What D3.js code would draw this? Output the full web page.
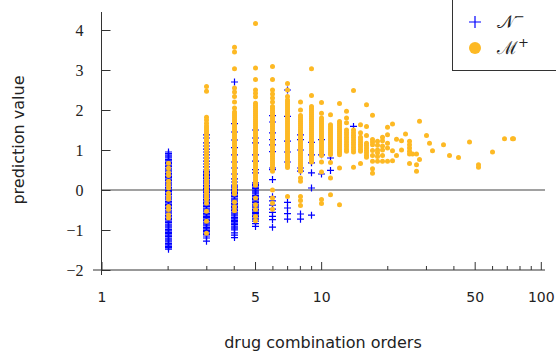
<!DOCTYPE html>
<html>
<head>
<meta charset="utf-8">
<script src="https://cdn.jsdelivr.net/npm/d3@7"></script>
<style>
  body { margin: 0; background: #fff; }
  text { font-family: "DejaVu Sans", sans-serif; fill: #222; }
</style>
</head>
<body>
<div id="chart"></div>
<script>
// Width and height
const WIDTH = 556;
const HEIGHT = 359;

// N- values (blue plus), one list per drug combination order
const negOrders = [2, 3, 4, 5, 6, 7, 8, 9, 10, 11, 14];
const neg2 = [0.95, 0.91, 0.87, 0.83, 0.8, 0.76, 0.73, 0.69, 0.66, 0.62, 0.59, 0.55, 0.52, 0.48, 0.45, 0.41, 0.38, 0.34, 0.31, 0.27, 0.24, 0.2, 0.17, 0.13, 0.1, 0.06, 0.03, -0.01, -0.04, -0.08, -0.11, -0.15, -0.18, -0.22, -0.25, -0.29, -0.32, -0.36, -0.39, -0.43, -0.46, -0.5, -0.53, -0.57, -0.6, -0.64, -0.67, -0.71, -0.74, -0.78, -0.81, -0.85, -0.88, -0.92, -0.95, -0.99, -1.02, -1.06, -1.09, -1.13, -1.16, -1.2, -1.23, -1.27, -1.3, -1.34, -1.37, -1.41, -1.44, -1.48];
const neg3 = [1.38, 1.3, 1.18, 1.1, 1.02, 0.95, 0.88, 0.8, 0.72, 0.65, 0.58, 0.5, 0.46, 0.43, 0.39, 0.36, 0.32, 0.29, 0.25, 0.22, 0.18, 0.15, 0.11, 0.08, 0.04, 0.01, -0.03, -0.06, -0.1, -0.13, -0.17, -0.2, -0.24, -0.27, -0.31, -0.34, -0.38, -0.41, -0.45, -0.48, -0.52, -0.55, -0.59, -0.62, -0.66, -0.69, -0.73, -0.76, -0.8, -0.83, -0.87, -0.9, -0.94, -0.97, -1.01, -1.04, -1.08, -1.11, -1.15, -1.2, -1.28];
const neg4 = [2.7, 1.66, 1.45, 1.25, 1.06, 0.88, 0.7, 0.55, 0.4, 0.28, 0.2, 0.12, 0.08, 0.05, 0.01, -0.02, -0.06, -0.09, -0.13, -0.16, -0.2, -0.23, -0.27, -0.3, -0.34, -0.37, -0.41, -0.44, -0.48, -0.51, -0.55, -0.58, -0.62, -0.65, -0.69, -0.72, -0.76, -0.79, -0.83, -0.86, -0.9, -0.93, -0.97, -1.0, -1.07, -1.13, -1.19];
const neg5 = [1.5, 1.3, 1.18, 0.88, 0.72, 0.51, 0.43, 0.18, 0.14, 0.11, 0.07, 0.04, 0.0, -0.03, -0.07, -0.1, -0.14, -0.17, -0.21, -0.24, -0.28, -0.31, -0.35, -0.38, -0.42, -0.45, -0.49, -0.52, -0.56, -0.59, -0.63, -0.66, -0.7, -0.73, -0.78, -0.84, -0.91];
const neg6 = [1.86, 1.7, 1.43, 1.26, 1.13, 0.96, 0.55, 0.51, 0.26, -0.17, -0.27, -0.38, -0.48, -0.56, -0.66, -0.74, -0.93];
const neg7 = [2.5, 1.84, 1.22, 0.95, 0.7, -0.31, -0.45, -0.59, -0.73];
const neg8 = [1.38, 1.26, 1.0, 0.55, 0.47, -0.6, -0.73];
const neg9 = [1.19, 0.88, 0.68, 0.43, 0.05, -0.63];
const neg10 = [1.26, 0.88, 0.4];
const neg11 = [0.8, 0.49];
const neg14 = [1.59];
const negCols = [neg2, neg3, neg4, neg5, neg6, neg7, neg8, neg9, neg10, neg11, neg14];

// M+ values (orange dots), one list per order up to 21
const posOrders = [2, 3, 4, 5, 6, 7, 8, 9, 10, 11, 12, 13, 14, 15, 16, 17, 18, 19, 20, 21];
const pos2 = [0.67, 0.55, 0.44, 0.36, 0.22, 0.13, 0.05, -0.08, -0.16, -0.23, -0.41, -0.49, -0.62, -0.7];
const pos3 = [2.59, 2.47, 1.82, 1.75, 1.67, 1.6, 1.55, 1.5, 1.45, 1.4, 1.35, 1.3, 1.25, 1.2, 1.15, 1.1, 1.05, 1.0, 0.95, 0.9, 0.85, 0.8, 0.75, 0.7, 0.65, 0.6, 0.55, 0.5, 0.45, 0.4, 0.35, 0.3, 0.25, 0.2, 0.15, 0.1, 0.05, 0.0, -0.05, -0.1, -0.15, -0.2, -0.24, -0.33, -0.53, -0.78, -1.08];
const pos4 = [3.57, 3.45, 3.03, 2.55, 2.45, 2.34, 2.2, 2.05, 1.95, 1.9, 1.85, 1.8, 1.75, 1.7, 1.65, 1.6, 1.55, 1.5, 1.45, 1.4, 1.35, 1.3, 1.25, 1.2, 1.15, 1.1, 1.05, 1.0, 0.95, 0.9, 0.85, 0.8, 0.75, 0.7, 0.65, 0.6, 0.55, 0.5, 0.45, 0.4, 0.35, 0.3, 0.25, 0.2, 0.15, 0.1, 0.05, 0.0, -0.05, -0.1, -0.3, -0.42, -0.52];
const pos5 = [4.16, 3.05, 2.76, 2.5, 2.42, 2.33, 2.17, 2.12, 2.07, 2.02, 1.97, 1.92, 1.87, 1.82, 1.77, 1.72, 1.67, 1.62, 1.57, 1.52, 1.47, 1.42, 1.37, 1.32, 1.27, 1.22, 1.17, 1.12, 1.07, 1.02, 0.97, 0.92, 0.87, 0.82, 0.77, 0.72, 0.67, 0.62, 0.57, 0.52, 0.47, 0.42, 0.37, 0.32, 0.27, 0.22, 0.17, 0.12, -0.2, -0.37, -0.49, -0.66, -0.77];
const pos6 = [3.09, 2.76, 2.5, 2.4, 2.3, 2.2, 2.09, 2.04, 1.99, 1.94, 1.89, 1.84, 1.79, 1.74, 1.69, 1.64, 1.59, 1.54, 1.49, 1.44, 1.39, 1.34, 1.29, 1.24, 1.19, 1.14, 1.09, 1.04, 0.99, 0.94, 0.89, 0.84, 0.79, 0.74, 0.69, 0.64, 0.59, 0.54, 0.47, 0.0, -0.2, -0.33, -0.48];
const pos7 = [2.66, 2.5, 2.34, 2.25, 2.2, 2.15, 2.1, 2.05, 2.0, 1.95, 1.9, 1.85, 1.8, 1.75, 1.7, 1.65, 1.6, 1.55, 1.5, 1.45, 1.4, 1.35, 1.3, 1.25, 1.2, 1.15, 1.1, 1.05, 1.0, 0.95, 0.9, 0.85, 0.8, 0.75, 0.7, 0.65, 0.6, 0.56, -0.16];
const pos8 = [2.2, 2.0, 1.86, 1.81, 1.76, 1.71, 1.66, 1.61, 1.56, 1.51, 1.46, 1.41, 1.36, 1.31, 1.26, 1.21, 1.16, 1.11, 1.06, 1.01, 0.96, 0.91, 0.86, 0.81, 0.76, 0.71, 0.66, 0.61, 0.56, 0.51, 0.47, 0.3, 0.22, -0.16, -0.26, -0.39];
const pos9 = [3.03, 2.36, 2.09, 2.04, 1.99, 1.94, 1.89, 1.84, 1.79, 1.74, 1.69, 1.64, 1.59, 1.54, 1.49, 1.44, 1.39, 1.34, 1.29, 1.24, 1.19, 1.14, 1.09, 1.04, 0.99, 0.94, 0.89, 0.84, 0.79, 0.74, 0.7];
const pos10 = [2.19, 1.92, 1.8, 1.75, 1.7, 1.65, 1.6, 1.55, 1.5, 1.45, 1.4, 1.35, 1.3, 1.25, 1.2, 1.15, 1.1, 1.05, 1.0, 0.95, 0.9, 0.86, 0.7, 0.45, -0.24, -0.34];
const pos11 = [1.88, 1.63, 1.58, 1.53, 1.48, 1.43, 1.38, 1.33, 1.28, 1.23, 1.18, 1.13, 1.08, 1.03, 0.98, 0.93, 0.89, 0.69, 0.3, -0.12];
const pos12 = [2.16, 1.71, 1.66, 1.61, 1.56, 1.51, 1.46, 1.41, 1.36, 1.31, 1.26, 1.21, 1.16, 1.11, 1.06, 1.01, 0.96, 0.93, 0.88, 0.55, -0.37];
const pos13 = [1.97, 1.8, 1.68, 1.5, 1.44, 1.38, 1.32, 1.26, 1.2, 1.14, 1.08, 1.02, 0.97];
const pos14 = [2.49, 1.5, 1.43, 1.37, 1.31, 1.25, 1.19, 1.13, 1.07, 1.01, 0.95, 0.57];
const pos15 = [1.63, 1.43, 1.32, 1.26, 1.2, 1.14, 1.08, 1.02, 0.97, 0.66];
const pos16 = [2.13, 1.59, 1.36, 1.17, 1.11, 1.05, 0.99, 0.93, 0.87, 0.82];
const pos17 = [1.87, 1.26, 1.2, 1.13, 0.99, 0.86, 0.72, 0.53, 0.42];
const pos18 = [1.22, 1.12, 1.0, 0.93, 0.84, 0.72];
const pos19 = [1.32, 1.23, 1.1, 1.0, 0.86, 0.72];
const pos20 = [1.57, 1.38, 1.17, 1.05, 0.72];
const pos21 = [1.65, 0.98, 0.73];
const posCols = [pos2, pos3, pos4, pos5, pos6, pos7, pos8, pos9, pos10, pos11, pos12, pos13, pos14, pos15, pos16, pos17, pos18, pos19, pos20, pos21];

// sparse M+ points for high orders: [order, value]
const posTail = [
  [22, 1.27], [22, 0.86], [23, 1.23], [23, 1.0], [24, 1.4],
  [25, 1.22], [25, 1.13], [25, 1.05], [25, 0.97], [25, 0.9], [25, 0.66],
  [26, 0.9], [27, 0.9], [27, 0.63], [27, 0.47], [28, 1.72], [28, 0.76],
  [30, 1.36], [31, 1.17], [32, 0.98], [36, 1.13], [38, 0.86], [42, 0.81],
  [47, 1.2], [52, 0.63], [52, 0.57], [60, 0.95], [68, 1.28], [74, 1.28], [75, 1.28]
];

// Tick values
const xMajor = [1, 5, 10, 50, 100];
const xMinor = [2, 3, 4, 6, 7, 8, 9, 20, 30, 40, 60, 70, 80, 90];
const yTicks = [-2, -1, 0, 1, 2, 3, 4];

// Colors
const BLUE = "#0000ff";
const ORANGE = "#fdb924";
const AXIS = "#333";

// Flatten columns into points
const negPoints = negOrders.flatMap((o, i) => negCols[i].map((v) => [o, v]));
const posPoints = posOrders
  .flatMap((o, i) => posCols[i].map((v) => [o, v]))
  .concat(posTail);

// SVG
const svg = d3
  .select("#chart")
  .append("svg")
  .attr("width", WIDTH)
  .attr("height", HEIGHT);

// Scales
const x = d3.scaleLog().domain([1, 104.5]).range([101.5, 545]);
const y = d3.scaleLinear().domain([-2, 4.45]).range([270, 12]);

// Zero line
svg
  .append("line")
  .attr("x1", x(1))
  .attr("x2", x(104.5))
  .attr("y1", y(0))
  .attr("y2", y(0))
  .attr("stroke", "#444")
  .attr("stroke-width", 1.2);

// N- markers (snapped to the pixel grid so the columns stay solid)
svg
  .append("g")
  .selectAll("path")
  .data(negPoints)
  .enter()
  .append("path")
  .attr("d", "M-3.5,0H3.5M0,-3.5V3.5")
  .attr("transform", (d) => "translate(" + (Math.round(x(d[0])) + 0.5) + "," + y(d[1]) + ")")
  .attr("stroke", BLUE)
  .attr("stroke-width", 1.2)
  .attr("fill", "none");

// M+ markers
svg
  .append("g")
  .selectAll("circle")
  .data(posPoints)
  .enter()
  .append("circle")
  .attr("cx", (d) => Math.round(x(d[0])) + 0.5)
  .attr("cy", (d) => y(d[1]))
  .attr("r", 2.5)
  .attr("fill", ORANGE);

// Y axis
const gy = svg
  .append("g")
  .attr("transform", "translate(" + x(1) + ",0)")
  .call(
    d3
      .axisLeft(y)
      .tickValues(yTicks)
      .tickFormat(d3.format("d"))
      .tickSize(-9)
      .tickPadding(18)
  );
gy.select(".domain").remove();
gy.selectAll(".tick line").attr("stroke", AXIS);
gy.selectAll(".tick text")
  .style("font-family", "'Liberation Serif', serif")
  .style("font-size", "16px")
  .attr("fill", "#222");

// X axis, major and minor ticks
const gx = svg
  .append("g")
  .attr("transform", "translate(0," + y(-2) + ")")
  .call(
    d3
      .axisBottom(x)
      .tickValues(xMajor)
      .tickFormat(d3.format("d"))
      .tickSize(-8)
      .tickPadding(22)
  );
gx.select(".domain").remove();
gx.selectAll(".tick line").attr("stroke", AXIS);
gx.selectAll(".tick text").style("font-size", "14px").attr("fill", "#222");

const gxm = svg
  .append("g")
  .attr("transform", "translate(0," + y(-2) + ")")
  .call(d3.axisBottom(x).tickValues(xMinor).tickFormat("").tickSize(-4));
gxm.select(".domain").remove();
gxm.selectAll(".tick line").attr("stroke", AXIS);

// Axis lines
svg
  .append("line")
  .attr("x1", x(1))
  .attr("x2", x(1))
  .attr("y1", 12)
  .attr("y2", 275)
  .attr("stroke", AXIS);
svg
  .append("line")
  .attr("x1", 93)
  .attr("x2", 545)
  .attr("y1", y(-2))
  .attr("y2", y(-2))
  .attr("stroke", AXIS);

// Axis labels
svg
  .append("text")
  .attr("x", 323)
  .attr("y", 348)
  .attr("text-anchor", "middle")
  .style("font-size", "16px")
  .text("drug combination orders");

svg
  .append("text")
  .attr("transform", "translate(24,140) rotate(-90)")
  .attr("text-anchor", "middle")
  .style("font-size", "16px")
  .text("prediction value");

// Legend
const legend = svg.append("g").attr("id", "legend");
legend
  .append("rect")
  .attr("x", 452.5)
  .attr("y", -1)
  .attr("width", 110)
  .attr("height", 71.5)
  .attr("fill", "#fff")
  .attr("stroke", AXIS);
legend
  .append("path")
  .attr("d", "M469,22H481M475,16V28")
  .attr("stroke", BLUE)
  .attr("stroke-width", 1.2);
legend
  .append("circle")
  .attr("cx", 475)
  .attr("cy", 48)
  .attr("r", 6)
  .attr("fill", ORANGE);

const legText = legend
  .append("text")
  .attr("x", 497)
  .attr("y", 28)
  .style("font-family", "'DejaVu Serif', serif")
  .style("font-size", "18px");
legText.append("tspan").text("\u{1D4A9}");
legText.append("tspan").attr("dy", -7).style("font-size", "13px").text("\u2212");

const legText2 = legend
  .append("text")
  .attr("x", 497)
  .attr("y", 54)
  .style("font-family", "'DejaVu Serif', serif")
  .style("font-size", "18px");
legText2.append("tspan").text("\u2133");
legText2.append("tspan").attr("dy", -7).style("font-size", "13px").text("+");
</script>
</body>
</html>
